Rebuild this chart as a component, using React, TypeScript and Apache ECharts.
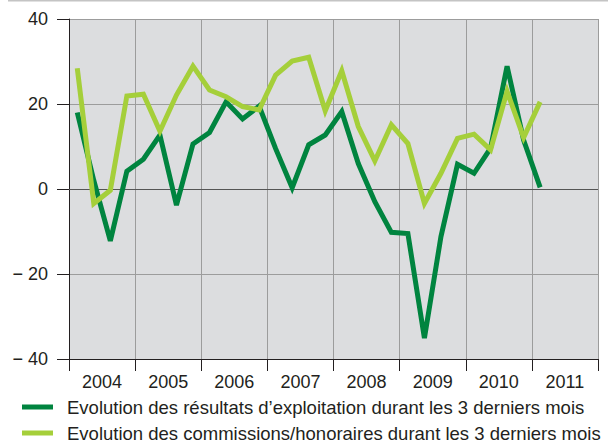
import React, { useEffect, useRef } from "react";
import * as echarts from "echarts";

const years = ["2004", "2005", "2006", "2007", "2008", "2009", "2010", "2011"];
const quarters = years.flatMap((y) => ["T1", "T2", "T3", "T4"].map((q) => `${y} ${q}`));

const resultats = [
  18, 2, -12.2, 4.2, 7, 12.7, -3.8, 10.6,
  13.3, 20.5, 16.5, 19.5, 9.5, 0.3, 10.4, 12.7,
  18.2, 6, -3, -10.2, -10.5, -35.1, -11.2, 5.8,
  3.7, 9.6, 28.9, 11.5, 0.4,
];
const commissions = [
  28.4, -3.4, -0.3, 21.9, 22.3, 13.6, 22.1, 28.9,
  23.3, 21.7, 19.4, 18.6, 26.8, 30.1, 31, 18.4,
  27.8, 14.7, 6.6, 15.1, 10.7, -3.4, 3.7, 11.9,
  12.9, 9.2, 23, 12.1, 20.5,
];

const seriesNames = [
  "Evolution des résultats d\u2019exploitation durant les 3 derniers mois",
  "Evolution des commissions/honoraires durant les 3 derniers mois",
];

const FONT = "'Liberation Sans', Arial, sans-serif";
const TEXT = "#231F20";

const legendBase = {
  orient: "horizontal",
  left: 22,
  padding: 0,
  itemWidth: 31,
  itemHeight: 5,
  icon: "rect",
  textStyle: {
    fontFamily: FONT,
    fontSize: 18.5,
    lineHeight: 20,
    color: TEXT,
    padding: [0, 0, 0, 9],
  },
};

export default function App() {
  const ref = useRef<HTMLDivElement>(null);
  useEffect(() => {
    if (!ref.current) return;
    const chart = echarts.init(ref.current, undefined, { renderer: "svg" });
    chart.setOption({
      animation: false,
      textStyle: { fontFamily: FONT },
      graphic: [
        {
          type: "line",
          shape: { x1: 8, y1: 0.75, x2: 608, y2: 0.75 },
          style: { stroke: "#c4c4c4", lineWidth: 1.5 },
        },
      ],
      grid: {
        left: 69,
        right: 10,
        top: 19,
        bottom: 84,
        show: true,
        backgroundColor: "#DCDDDF",
        borderWidth: 0,
      },
      legend: [
        { ...legendBase, top: 397, data: [seriesNames[0]] },
        { ...legendBase, top: 423, data: [seriesNames[1]] },
      ],
      xAxis: [
        {
          type: "category",
          data: quarters,
          boundaryGap: true,
          show: false,
        },
        {
          type: "category",
          data: years,
          boundaryGap: true,
          position: "bottom",
          axisLine: { show: true, lineStyle: { color: TEXT, width: 1 } },
          axisTick: { show: true, length: 12, lineStyle: { color: TEXT } },
          axisLabel: { fontSize: 18, color: TEXT, margin: 14, fontFamily: FONT },
          splitLine: { show: true, lineStyle: { color: "#9c9c9c", width: 1 } },
        },
      ],
      yAxis: {
        type: "value",
        min: -40,
        max: 40,
        interval: 20,
        axisLine: { show: true, lineStyle: { color: TEXT, width: 1 } },
        axisTick: { show: true, length: 12, lineStyle: { color: TEXT } },
        axisLabel: {
          fontSize: 18,
          color: TEXT,
          margin: 21,
          fontFamily: FONT,
          formatter: (v: number) => (v < 0 ? `\u2212 ${Math.abs(v)}` : `${v}`),
        },
        splitLine: { show: true, lineStyle: { color: "#9c9c9c", width: 1 } },
      },
      series: [
        {
          name: seriesNames[0],
          type: "line",
          xAxisIndex: 0,
          data: resultats,
          symbol: "none",
          lineStyle: { color: "#00843F", width: 5, join: "miter" },
          itemStyle: { color: "#00843F" },
          z: 3,
          markLine: {
            silent: true,
            symbol: "none",
            label: { show: false },
            lineStyle: { color: "#555555", width: 1, type: "solid" },
            data: [{ yAxis: 0 }],
            z: 1,
          },
        },
        {
          name: seriesNames[1],
          type: "line",
          xAxisIndex: 0,
          data: commissions,
          symbol: "none",
          lineStyle: { color: "#A5CF3A", width: 5, join: "miter" },
          itemStyle: { color: "#A5CF3A" },
          z: 4,
        },
      ],
    });
    return () => chart.dispose();
  }, []);
  return (
    <div
      ref={ref}
      style={{ position: "fixed", left: 0, top: 0, width: 608, height: 443, background: "#fff" }}
    />
  );
}
